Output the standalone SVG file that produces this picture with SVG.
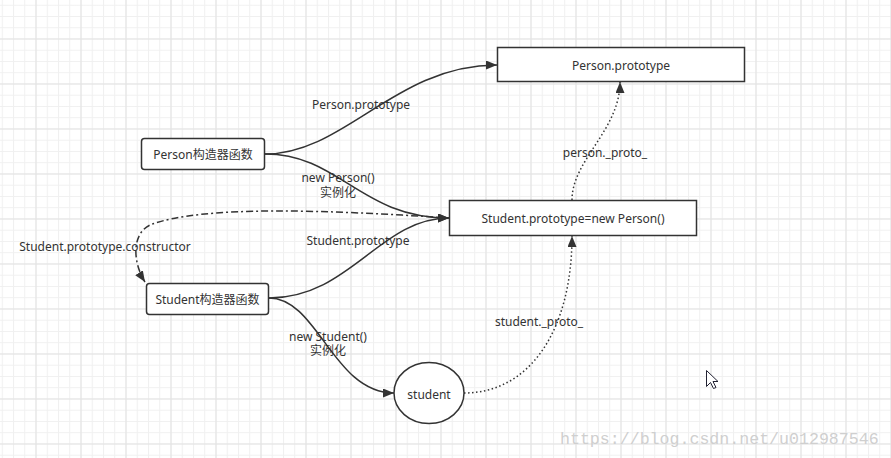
<svg xmlns="http://www.w3.org/2000/svg" width="891" height="458" viewBox="0 0 891 458">
<style>
  .node { fill: #fff; stroke: #333; stroke-width: 1.5; }
  .t { font-family: "Noto Sans", "Noto Sans CJK SC", sans-serif; font-size: 12px; fill: #333; text-anchor: middle; dominant-baseline: central; }
  .edge { fill: none; stroke: #333; stroke-width: 1.5; }
  .dot { stroke-dasharray: 1.5 2.5; }
  .dashdot { stroke-dasharray: 7 3 2 3; }
  .wm { font-family: "Liberation Mono", monospace; font-size: 16.6px; fill: #cfcfcf; }
</style>
<defs>
  <pattern id="minor" x="35.5" y="38.5" width="11.25" height="11.25" patternUnits="userSpaceOnUse">
    <path d="M0 0.5 H11.25 M0.5 0 V11.25" stroke="#f0f0f0" stroke-width="1" fill="none"/>
  </pattern>
  <pattern id="major" x="35.5" y="38.5" width="45" height="45" patternUnits="userSpaceOnUse">
    <path d="M0 0.5 H45 M0.5 0 V45" stroke="#e2e2e2" stroke-width="1" fill="none"/>
  </pattern>
  <marker id="arr" markerUnits="userSpaceOnUse" markerWidth="12" markerHeight="10" refX="11" refY="4.5" orient="auto">
    <path d="M0 0 L11 4.5 L0 9 Z" fill="#333"/>
  </marker>
</defs>
<rect width="891" height="458" fill="#fff"/>
<rect width="891" height="458" fill="url(#minor)"/>
<rect width="891" height="458" fill="url(#major)"/>

<g id="connectors">
  <path class="edge" d="M265 154 C345 154 395 65 497 65" marker-end="url(#arr)"/>
  <path class="edge" d="M265 154 C340 154 360 218 449 218" marker-end="url(#arr)"/>
  <path class="edge" d="M269 298 C350 298 380 218 449 218" marker-end="url(#arr)"/>
  <path class="edge" d="M269 298 C318 298 333 393 394 393" marker-end="url(#arr)"/>
  <path class="edge dashdot" d="M448 218 C330 210 200 205 150 225 C130 235 134 265 145 282" marker-end="url(#arr)"/>
  <path class="edge dot" d="M572 200 C572 160 620 130 620 82" marker-end="url(#arr)"/>
  <path class="edge dot" d="M464 393 C530 393 572 330 572 236" marker-end="url(#arr)"/>
  <text class="t" x="361" y="104">Person.prototype</text>
  <text class="t" x="338" y="177.5">new Person()<tspan x="338" dy="14">实例化</tspan></text>
  <text class="t" x="358" y="240">Student.prototype</text>
  <text class="t" x="105" y="246">Student.prototype.constructor</text>
  <text class="t" x="328" y="336">new Student()<tspan x="328" dy="14">实例化</tspan></text>
  <text class="t" x="539" y="321">student._proto_</text>
  <text class="t" x="605" y="152">person._proto_</text>
</g>

<g id="person-prototype">
  <rect class="node" x="497.5" y="47.5" width="247" height="34"/>
  <text class="t" x="621" y="65">Person.prototype</text>
</g>
<g id="student-prototype">
  <rect class="node" x="449.5" y="200.5" width="247" height="35"/>
  <text class="t" x="573" y="218">Student.prototype=new Person()</text>
</g>
<g id="person-ctor">
  <rect class="node" x="141.5" y="138.5" width="123" height="31" rx="3"/>
  <text class="t" x="203" y="154">Person构造器函数</text>
</g>
<g id="student-ctor">
  <rect class="node" x="146.5" y="283.5" width="122" height="31" rx="3"/>
  <text class="t" x="207.5" y="299">Student构造器函数</text>
</g>
<g id="student">
  <ellipse class="node" cx="429" cy="393" rx="35" ry="30.5"/>
  <text class="t" x="429" y="394">student</text>
</g>

<polygon points="706.5,370.5 706.5,386.5 710.5,382.5 713.5,388.5 716,387.5 713,381.5 718,381.5" fill="#fff" stroke="#223" stroke-width="1"/>
<text class="wm" x="560" y="444">https://blog.csdn.net/u012987546</text>
</svg>
